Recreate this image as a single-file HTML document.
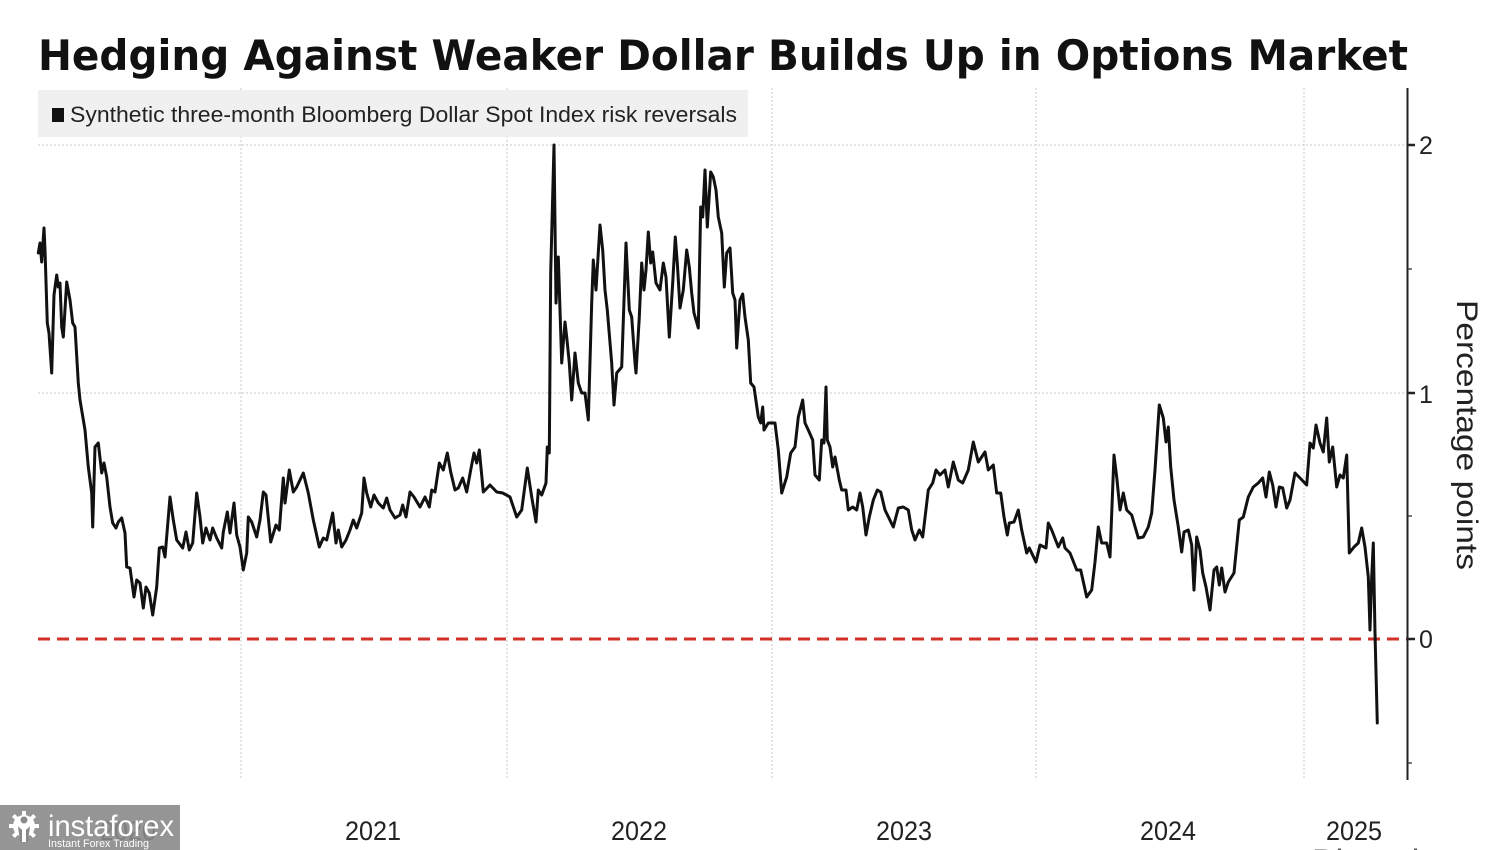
<!DOCTYPE html>
<html>
<head>
<meta charset="utf-8">
<style>
html,body{margin:0;padding:0;background:#fff;}
svg{display:block;}
text{font-family:"Liberation Sans",sans-serif;}
</style>
</head>
<body>
<svg width="1500" height="850" viewBox="0 0 1500 850" xmlns="http://www.w3.org/2000/svg">
<rect x="0" y="0" width="1500" height="850" fill="#ffffff"/>

<!-- Title -->
<text x="38" y="70" font-size="42" font-weight="bold" fill="#111" style="font-family:'DejaVu Sans','Liberation Sans',sans-serif" textLength="1370" lengthAdjust="spacingAndGlyphs">Hedging Against Weaker Dollar Builds Up in Options Market</text>

<!-- gridlines -->
<g stroke="#c8c8c8" stroke-width="1" stroke-dasharray="2,2">
<line x1="241" y1="88" x2="241" y2="778"/>
<line x1="507" y1="88" x2="507" y2="778"/>
<line x1="772" y1="88" x2="772" y2="778"/>
<line x1="1036" y1="88" x2="1036" y2="778"/>
<line x1="1304" y1="88" x2="1304" y2="778"/>
<line x1="38" y1="145" x2="1407" y2="145"/>
<line x1="38" y1="393" x2="1407" y2="393"/>
</g>

<!-- legend -->
<rect x="38" y="90" width="710" height="47" fill="#efefef" fill-opacity="0.92"/>
<rect x="52" y="108" width="12" height="14" fill="#111"/>
<text x="70" y="122" font-size="22" fill="#222" textLength="667" lengthAdjust="spacingAndGlyphs">Synthetic three-month Bloomberg Dollar Spot Index risk reversals</text>

<!-- zero line -->
<line x1="38" y1="639" x2="1407" y2="639" stroke="#d3302a" stroke-width="3" stroke-dasharray="12,7"/>

<!-- series -->
<polyline fill="none" stroke="#111" stroke-width="3" stroke-linejoin="round" stroke-linecap="round" points="
38.3,253 40,243 41.7,262 44,228 45,250 47.3,323 49,333 51.7,373 54,295 56.7,275 58.3,287 60,283 61.7,327 63.3,337 66.7,282 70,300 72.7,323 75,327 78.3,383 80,400 85,430 88.3,467 91.7,493 92.7,527 95,447 98.3,443 101.7,473 104,463 106.7,477 110,507 112.7,523 116,528 118.3,522 121.7,518 125,533 126.7,567 130,568 134,597 136.7,580 140,583 143.3,608 146,587 149.3,593 152.7,615 156.7,587 159.3,548 162.7,547 165,557 170,497 173.3,520 176.7,540 182.7,548 186,532 189.3,550 192.7,543 196.7,493 200,517 202.7,543 206,528 210,540 212.7,528 216.7,538 221.7,548 223.3,532 227.3,512 230,533 234,503 236.7,535 240,547 243.3,570 246.7,553 248.3,517 251.7,522 256.7,537 260,520 263.3,492 266,495 270.7,542 276,525 279.3,530 283.3,478 285,503 289.3,470 293.3,492 296.7,487 303.3,473 308.3,493 313.3,520 319.3,547 323.3,538
326.7,540 332.7,513 336,543 338.3,530 341.7,547 346,540 350,530 353.3,520 356.7,528 361.7,513 364,478 366.7,493 370.7,507 374,495 378.3,503 383.3,508 386.7,498 390,510 395,518 400,515 402.7,505 406,517 410,492 414,497 420,507 425,497 429.3,507 431.7,490 435,492 439.3,463 443.3,470 447.3,453 450.7,472 455,490 458.3,488 462.7,478 466.7,492 470.7,470 474,453 476.7,463 479.3,450 483.3,492 490,485 496.7,492 502.7,493 510,497 516.7,517 521.7,510 527.3,468 531.7,497 536,522 538.3,490 541.7,495 546,483 547.3,447 549.3,453 550.7,273 554,145 556,303 558.3,257 561.7,363 565,322 566.7,337 569.3,363 571.7,400 575,353 578.3,383 581.7,393 585,393 588.3,420 591.7,303 593.3,260 596,290 600,225 602.7,250 605,290 607.3,310 611.7,363 614,405 616.7,373 621.7,367 626,243 629.3,310 631.7,317
635,363 636,373 639.3,317 641.7,263 644,290 646,270 648.3,232 650.7,263 652.7,252 656,283 660,290 663.3,263 666,277 669.3,337 672.7,283 675.3,237 677.3,263 680,308 683.3,290 686.7,250 689.3,267 691.7,293 694,313 698.3,328 700.7,207 702.7,217 705,170 707.3,227 710.7,172 713.3,177 716,190 718.3,217 721.7,233 724.3,287 726.7,253 730,248 732.7,293 735,300 736.7,348 740,300 742.7,294 745,317 748.3,340 750.7,383 754,387 758.3,417 760.7,423 762.7,407 764,430 768.3,423 775,423 778.3,450 781.7,493 786.7,477 790.7,453 795,447 798.3,417 802.7,400 805,423 808.3,430 812.7,440 815,475 819.3,480 821.7,440 824,443 826,387 827.3,440 830,447 832.7,467 835,457 839.3,480 841.7,490 846,490 848.3,510 852.7,507 856.7,510 860,493 862.7,507 866,535 869.3,517 873.3,500 877.3,490 880.7,492 885,510 893.3,527 898.3,508 903.3,507 908.3,510 911.7,530 915,540 919.3,530 922.7,537 928.3,490 932.7,483 936,470 940,475 945,470 948.3,487 953.3,462 958.3,480
962.7,483 968.3,470 973.3,442 978.3,462 985,452 988.3,470 993.3,465 996.7,493 1000.7,493 1004,517 1007.3,535 1009.3,523 1014,522 1018.3,510 1021.7,530 1026.7,553 1029.3,548 1036,562 1040,545 1046,548 1048.3,523 1051.7,530 1058.3,547 1062.7,538 1065,548 1070,553 1076.7,570 1080.7,570 1086.7,597 1091.7,590 1095,562 1098.3,527 1101.7,543 1106.7,543 1110,557 1114,455 1116.7,477 1120,510 1123.3,493 1126.7,510 1131.7,515 1138.3,538 1143.3,537 1148.3,527 1151.7,513 1155,470 1159.3,405 1163.3,418 1166,442 1168.3,427 1170.7,467 1174,500 1178.3,527 1181.7,552 1184,532 1188.3,530 1191.7,545 1194,590 1196.7,537
1200,550 1202.7,573 1206,587 1210,610 1214,570 1216.7,567 1219.3,585 1221.7,568 1225,592 1228.3,582 1234,573 1239.3,520 1243.3,517 1248.3,497 1253.3,487 1258.3,483 1262.7,478 1266,497 1269.3,472 1272.7,485 1276,507 1279.3,487 1282.7,488 1286.7,508 1290,500 1295,473 1300,478 1306.7,485 1310,443 1313.3,448 1316,425 1320,443 1323.3,452 1326.7,418 1329.3,462 1332.7,447 1336.7,487 1340,475 1343.3,478 1346.7,455 1349.3,553 1354,547 1358.3,543 1361.7,528 1365,547 1368.3,577 1370,630 1371.7,577 1373.3,543 1375,633 1377.3,723"/>

<!-- right axis -->
<line x1="1407.5" y1="88" x2="1407.5" y2="780" stroke="#222" stroke-width="2"/>
<g stroke="#222">
<line x1="1407" y1="145" x2="1415" y2="145" stroke-width="2.5"/>
<line x1="1407" y1="393" x2="1415" y2="393" stroke-width="2.5"/>
<line x1="1407" y1="639" x2="1415" y2="639" stroke-width="2.5"/>
<line x1="1407" y1="269" x2="1412" y2="269" stroke-width="1.2"/>
<line x1="1407" y1="516" x2="1412" y2="516" stroke-width="1.2"/>
<line x1="1407" y1="763" x2="1412" y2="763" stroke-width="1.2"/>
</g>
<g font-size="25" fill="#222">
<text x="1419" y="154">2</text>
<text x="1419" y="403">1</text>
<text x="1419" y="648">0</text>
</g>
<text transform="translate(1457,300) rotate(90)" font-size="30" fill="#222" textLength="270" lengthAdjust="spacingAndGlyphs">Percentage points</text>

<!-- x labels -->
<g font-size="27" fill="#222" text-anchor="middle">
<text x="128" y="840" textLength="56" lengthAdjust="spacingAndGlyphs">2020</text>
<text x="373" y="840" textLength="56" lengthAdjust="spacingAndGlyphs">2021</text>
<text x="639" y="840" textLength="56" lengthAdjust="spacingAndGlyphs">2022</text>
<text x="904" y="840" textLength="56" lengthAdjust="spacingAndGlyphs">2023</text>
<text x="1168" y="840" textLength="56" lengthAdjust="spacingAndGlyphs">2024</text>
<text x="1354" y="840" textLength="56" lengthAdjust="spacingAndGlyphs">2025</text>
</g>
<text x="1312" y="870" font-size="30" fill="#555" textLength="170" lengthAdjust="spacingAndGlyphs">Bloomberg</text>

<!-- watermark -->
<rect x="0" y="805" width="180" height="45" fill="#8a8a8a" fill-opacity="0.9"/>
<g fill="#ffffff">
<circle cx="24" cy="826" r="11"/>
<g stroke="#ffffff" stroke-width="4">
<line x1="24" y1="811" x2="24" y2="841"/>
<line x1="9" y1="826" x2="39" y2="826"/>
<line x1="13.4" y1="815.4" x2="34.6" y2="836.6"/>
<line x1="34.6" y1="815.4" x2="13.4" y2="836.6"/>
</g>
<circle cx="24" cy="820" r="3.5" fill="#8a8a8a"/>
<path d="M18,826 Q24,834 30,826 L28,842 L20,842 Z" fill="#8a8a8a"/>
<rect x="22" y="828" width="4" height="14" fill="#ffffff"/>
<text x="48" y="836" font-size="30" fill="#ffffff" textLength="126" lengthAdjust="spacingAndGlyphs">instaforex</text>
<text x="48" y="847" font-size="11" fill="#ffffff" textLength="101" lengthAdjust="spacingAndGlyphs">Instant Forex Trading</text>
</g>
</svg>
</body>
</html>
